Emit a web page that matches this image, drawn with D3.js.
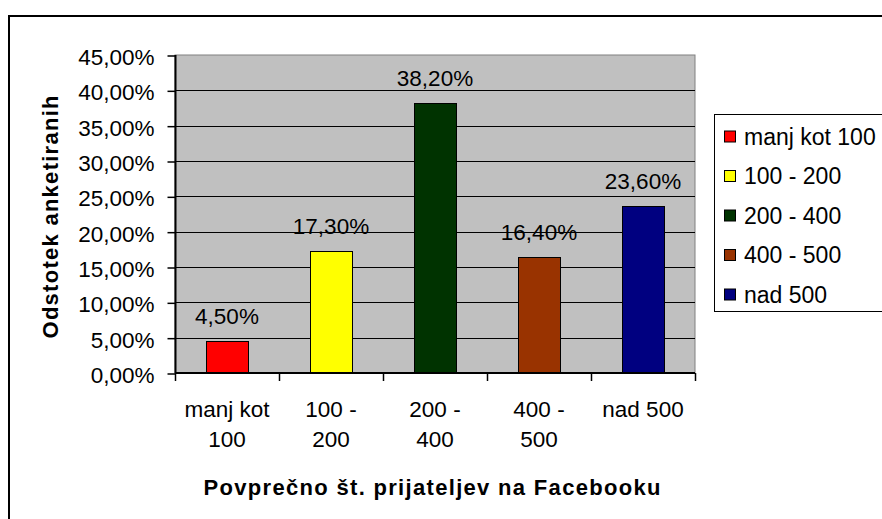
<!DOCTYPE html>
<html><head><meta charset="utf-8">
<script src="https://cdn.jsdelivr.net/npm/d3@7"></script>
<style>html,body{margin:0;padding:0;background:#fff;}svg{display:block;}</style>
</head><body>
<svg id="chart" width="882" height="519"></svg>
<script>
const categories = ["manj kot 100", "100 - 200", "200 - 400", "400 - 500", "nad 500"];
const categoryLines = [["manj kot", "100"], ["100 -", "200"], ["200 -", "400"], ["400 -", "500"], ["nad 500"]];
const values = [4.5, 17.3, 38.2, 16.4, 23.6];
const valueLabels = ["4,50%", "17,30%", "38,20%", "16,40%", "23,60%"];
const colors = ["#FF0000", "#FFFF00", "#003300", "#993300", "#000080"];
const yTicks = [0, 5, 10, 15, 20, 25, 30, 35, 40, 45];
const yTickLabels = ["0,00%", "5,00%", "10,00%", "15,00%", "20,00%", "25,00%", "30,00%", "35,00%", "40,00%", "45,00%"];
const yTitle = "Odstotek anketiranih";
const xTitle = "Povprečno št. prijateljev na Facebooku";

const svg = d3.select("#chart");
const font = "'Liberation Sans', Arial, sans-serif";
const fs = 22.5;
const plot = {left: 175, top: 55, right: 695, bottom: 373};

// outer border (extends beyond viewport right/bottom)
svg.append("rect").attr("x", 9).attr("y", 16).attr("width", 900).attr("height", 540)
  .attr("fill", "none").attr("stroke", "#000").attr("stroke-width", 2);

const x = d3.scaleBand().domain(categories).range([plot.left, plot.right]).padding(0);
const y = d3.scaleLinear().domain([0, 45]).range([plot.bottom, plot.top]);

// plot background
svg.append("rect").attr("x", plot.left).attr("y", plot.top)
  .attr("width", plot.right - plot.left).attr("height", plot.bottom - plot.top)
  .attr("fill", "#C0C0C0").attr("stroke", "#808080").attr("stroke-width", 1);

// gridlines
svg.append("g").selectAll("line").data(yTicks.filter(t => t > 0 && t < 45)).join("line")
  .attr("x1", plot.left).attr("x2", plot.right)
  .attr("y1", d => Math.round(y(d)) + 0.5).attr("y2", d => Math.round(y(d)) + 0.5)
  .attr("stroke", "#000").attr("stroke-width", 1);

// bars
const barW = x.bandwidth() * 0.4;
svg.append("g").selectAll("rect").data(values).join("rect")
  .attr("x", (d, i) => Math.round(x(categories[i]) + (x.bandwidth() - barW) / 2) + 0.5)
  .attr("y", d => Math.round(y(d)) + 0.5)
  .attr("width", Math.round(barW))
  .attr("height", d => Math.round(y(0)) - Math.round(y(d)))
  .attr("fill", (d, i) => colors[i]).attr("stroke", "#000").attr("stroke-width", 1);

// value labels
svg.append("g").selectAll("text").data(values).join("text")
  .attr("x", (d, i) => x(categories[i]) + x.bandwidth() / 2)
  .attr("y", d => y(d) - 17)
  .attr("text-anchor", "middle").attr("font-family", font).attr("font-size", fs)
  .attr("fill", "#000").text((d, i) => valueLabels[i]);

// y axis
const yAxis = d3.axisLeft(y).tickValues(yTicks).tickSize(8).tickFormat((d, i) => yTickLabels[i]).tickPadding(13);
const gy = svg.append("g").attr("transform", `translate(${plot.left + 0.5},0.5)`).call(yAxis);
gy.select(".domain").attr("stroke", "#000").attr("stroke-width", 2).attr("d", `M0,${plot.top - 0.5}V${plot.bottom - 0.5}`);
gy.selectAll(".tick line").attr("stroke", "#000").attr("stroke-width", 1.5);
gy.selectAll(".tick text").attr("font-family", font).attr("font-size", fs).attr("fill", "#000").attr("dy", "0.4em");

// x axis
const xAxis = d3.axisBottom(x).tickSize(0).tickFormat("");
const gx = svg.append("g").attr("transform", `translate(0,${plot.bottom})`).call(xAxis);
gx.select(".domain").attr("stroke", "#000").attr("stroke-width", 2).attr("d", `M${plot.left},0H${plot.right}`);
const boundaries = categories.map(c => x(c)).concat([plot.right]);
gx.selectAll(".bound").data(boundaries).join("line").attr("class", "bound")
  .attr("x1", d => d + 0.5).attr("x2", d => d + 0.5).attr("y1", 0).attr("y2", 8)
  .attr("stroke", "#000").attr("stroke-width", 1.5);
gx.selectAll(".cat").data(categoryLines).join("text").attr("class", "cat")
  .attr("x", (d, i) => x(categories[i]) + x.bandwidth() / 2)
  .attr("y", 44)
  .attr("text-anchor", "middle").attr("font-family", font).attr("font-size", fs).attr("fill", "#000")
  .each(function(lines) {
    d3.select(this).selectAll("tspan").data(lines).join("tspan")
      .attr("x", d3.select(this).attr("x")).attr("dy", (d, j) => j === 0 ? 0 : 30).text(d => d);
  });

// axis titles
svg.append("text").attr("x", (plot.left + plot.right) / 2 - 3).attr("y", 495)
  .attr("text-anchor", "middle").attr("font-family", font).attr("font-weight", "bold")
  .attr("font-size", 22).attr("textLength", 457).attr("lengthAdjust", "spacing").text(xTitle);
svg.append("text").attr("transform", `translate(58,${(plot.top + plot.bottom) / 2 + 3}) rotate(-90)`)
  .attr("text-anchor", "middle").attr("font-family", font).attr("font-weight", "bold")
  .attr("font-size", 22).attr("textLength", 243).attr("lengthAdjust", "spacing").text(yTitle);

// legend
const lg = svg.append("g");
lg.append("rect").attr("x", 714.5).attr("y", 114.5).attr("width", 300).attr("height", 197)
  .attr("fill", "#fff").attr("stroke", "#000").attr("stroke-width", 1);
const ly = d3.scalePoint().domain(categories).range([136.5, 294.5]);
const items = lg.selectAll("g.item").data(categories).join("g").attr("class", "item")
  .attr("transform", d => `translate(0,${ly(d)})`);
items.append("rect").attr("x", 724.5).attr("y", -5.5).attr("width", 11).attr("height", 11)
  .attr("fill", (d, i) => colors[i]).attr("stroke", "#000").attr("stroke-width", 1);
items.append("text").attr("x", 744).attr("y", 8).attr("font-family", font).attr("font-size", 23)
  .attr("fill", "#000").text(d => d);
</script>
</body></html>
